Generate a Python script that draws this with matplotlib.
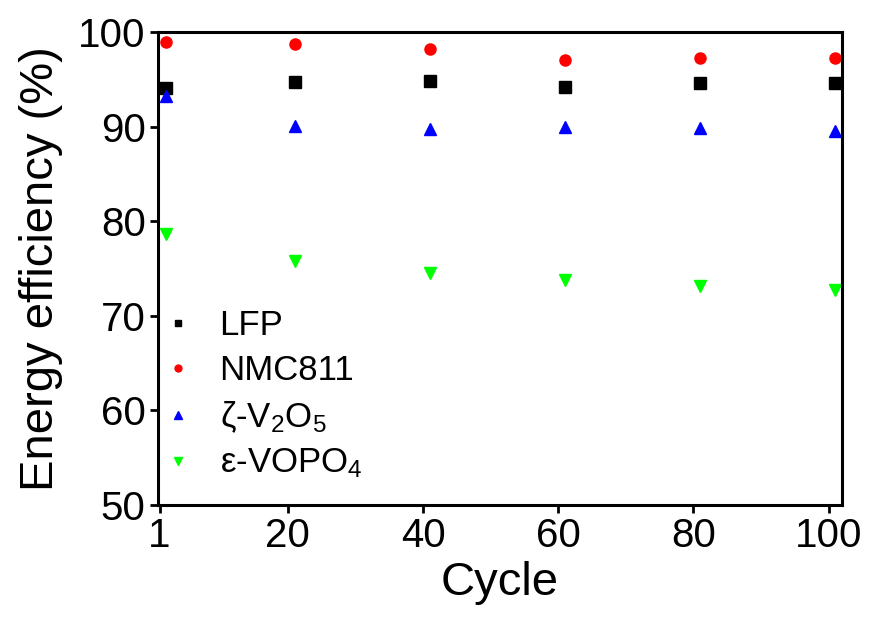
import matplotlib
matplotlib.use("Agg")
import matplotlib.pyplot as plt

# Data
cycles = [2, 21, 41, 61, 81, 101]
lfp = [94.1, 94.7, 94.8, 94.2, 94.6, 94.6]
nmc811 = [98.9, 98.7, 98.2, 97.0, 97.3, 97.3]
v2o5 = [93.2, 90.1, 89.7, 89.9, 89.8, 89.5]
vopo4 = [78.6, 75.8, 74.5, 73.8, 73.1, 72.7]

x_ticks = [1, 20, 40, 60, 80, 100]
y_ticks = [50, 60, 70, 80, 90, 100]

plt.rcParams['font.family'] = ['Liberation Sans', 'DejaVu Sans']
plt.rcParams['mathtext.default'] = 'regular'

fig = plt.figure(figsize=(8.69, 6.27), dpi=100)
ax = fig.add_axes([0.182, 0.195, 0.787, 0.754])

ms = 8
ax.plot(cycles, lfp, 's', color='black', ms=ms, label='LFP', clip_on=False)
ax.plot(cycles, nmc811, 'o', color='#ff0000', ms=ms, label='NMC811', clip_on=False)
ax.plot(cycles, v2o5, '^', color='#0000ff', ms=ms + 1, label='ζ-V$_2$O$_5$', clip_on=False)
ax.plot(cycles, vopo4, 'v', color='#00ff00', ms=ms + 1, label='ε-VOPO$_4$', clip_on=False)

ax.set_xlim(0.8, 102)
ax.set_ylim(50, 100)
ax.set_xticks(x_ticks)
ax.set_yticks(y_ticks)

for s in ax.spines.values():
    s.set_linewidth(2.2)
ax.tick_params(direction='out', length=6, width=2, labelsize=29, pad=3)

ax.set_xlabel('Cycle', fontsize=34, labelpad=4)
ax.set_ylabel('Energy efficiency (%)', fontsize=34, labelpad=11)

ax.legend(loc='lower left', frameon=False, fontsize=25, markerscale=0.62,
          handlelength=1.0, handletextpad=0.7, labelspacing=0.35,
          borderaxespad=0.3, bbox_to_anchor=(-0.032, 0.0))

fig.savefig('out.png', dpi=100)
